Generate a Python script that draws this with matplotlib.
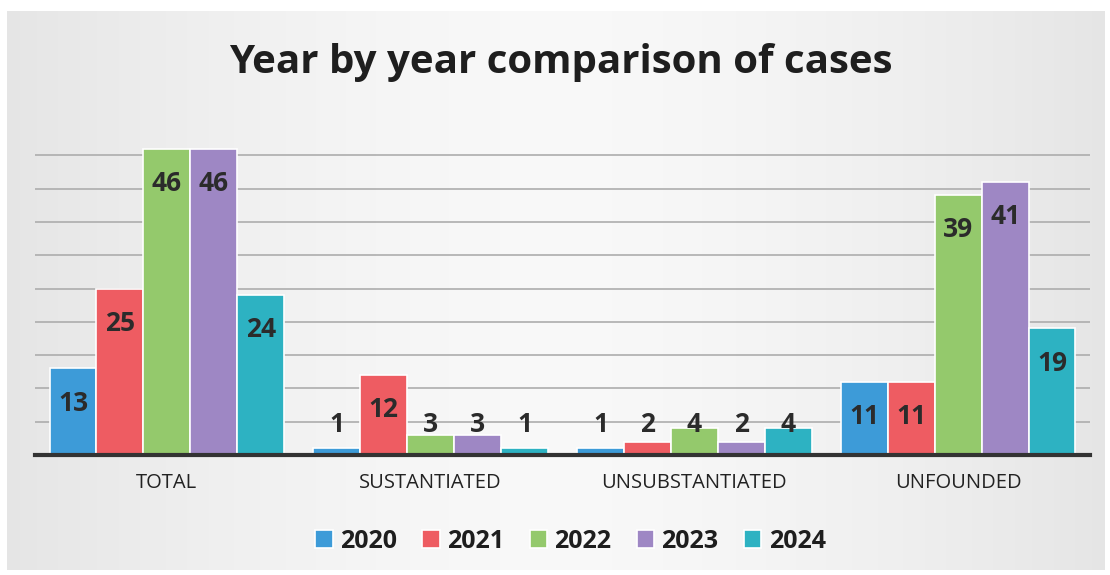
import matplotlib
matplotlib.use("Agg")
import matplotlib.pyplot as plt
import numpy as np

categories = ["TOTAL", "SUSTANTIATED", "UNSUBSTANTIATED", "UNFOUNDED"]
years = ["2020", "2021", "2022", "2023", "2024"]
v2020 = [13, 1, 1, 11]
v2021 = [25, 12, 2, 11]
v2022 = [46, 3, 4, 39]
v2023 = [46, 3, 2, 41]
v2024 = [24, 1, 4, 19]
series = [v2020, v2021, v2022, v2023, v2024]
colors = ["#3D9BD8", "#EE5C62", "#94C96C", "#9E87C4", "#2DB2C2"]

plt.rcParams['font.family'] = ['Open Sans', 'DejaVu Sans']

fig = plt.figure(figsize=(11.1, 5.75), dpi=100)
fig.patch.set_facecolor("white")

# background panel with light gradient
bg = fig.add_axes([7/1110, 1-570/575, 1098/1110, 559/575])
grad = np.linspace(-1, 1, 256)
g = 0.90 + 0.075 * (1 - np.abs(grad) ** 1.5)
img = np.repeat(np.dstack([g, g, g]), 4, axis=0)
bg.imshow(img, aspect="auto", extent=[0, 1, 0, 1])
bg.set_axis_off()

ax = fig.add_axes([35/1110, 1-455/575, 1055/1110, 333/575])
ax.set_facecolor("none")
ax.patch.set_alpha(0)

x = np.arange(len(categories))
w = 0.178
for i, (vals, c) in enumerate(zip(series, colors)):
    pos = x + (i - 2) * w
    ax.bar(pos, vals, width=w, color=c, edgecolor="white", linewidth=1.2, zorder=3, label=years[i])
    for p, v in zip(pos, vals):
        ly = max(v - 5.2, 4.6)
        ax.text(p, ly, str(v), ha="center", va="center", fontsize=19, fontweight="bold",
                color="#2B2B2B", zorder=5)

ax.set_xlim(-0.5, 3.5)
ax.set_ylim(0, 50)
ax.set_yticks(np.arange(5, 50, 5))
ax.yaxis.grid(True, color="#ADADAD", linewidth=1.2, zorder=0)
ax.tick_params(axis="y", length=0, labelleft=False)
ax.tick_params(axis="x", length=0, pad=13)
ax.set_xticks(x)
ax.set_xticklabels(categories, fontsize=14.5, color="#222222")
for s in ["top", "right", "left"]:
    ax.spines[s].set_visible(False)
ax.spines["bottom"].set_color("#333333")
ax.spines["bottom"].set_linewidth(3)
ax.spines["bottom"].set_zorder(6)

fig.text(0.505, 1-63/575, "Year by year comparison of cases", ha="center", va="center",
         fontsize=29, fontweight="bold", color="#1E1E1E")

leg = fig.legend(loc="center", bbox_to_anchor=(0.514, 1-541/575), ncol=5, frameon=False,
                 prop={"size": 18, "weight": "bold"}, handlelength=0.7, handleheight=0.7,
                 handletextpad=0.3, columnspacing=1.0)
for t in leg.get_texts():
    t.set_color("#1E1E1E")

fig.savefig("out.png", dpi=100)
